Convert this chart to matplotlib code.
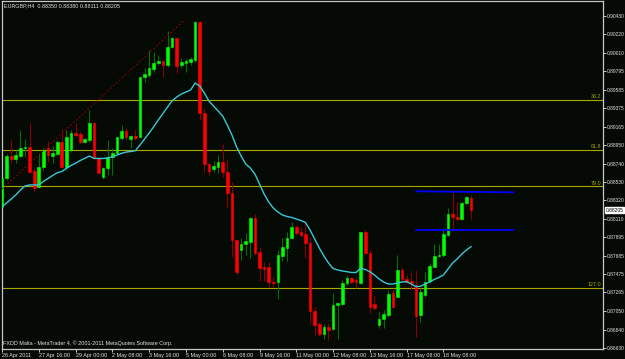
import matplotlib
matplotlib.use("Agg")
import matplotlib.pyplot as plt
import matplotlib.transforms as mtransforms

# ---- data (EURGBP H4) ----
open_ = [
    0.88244, 0.88576, 0.88831, 0.88790, 0.88831, 0.88916, 0.88927, 0.88656, 0.88476, 0.88698,
    0.88916, 0.88831, 0.88847, 0.88991, 0.88698, 0.88896, 0.89094, 0.89079, 0.88991, 0.89011,
    0.89202, 0.88801, 0.88584, 0.88687, 0.88819, 0.88865, 0.89030, 0.89117, 0.89022, 0.89056,
    0.89041, 0.89728, 0.89755, 0.89820, 0.89895, 0.89915, 0.89869, 0.90072, 0.90175, 0.89869,
    0.89889, 0.89907, 0.89926, 0.90365, 0.89316, 0.88736, 0.88682, 0.88705, 0.88762, 0.88648,
    0.88407, 0.87866, 0.87752, 0.87820, 0.87847, 0.88114, 0.87729, 0.87560, 0.87560, 0.87389,
    0.87382, 0.87683, 0.87778, 0.87885, 0.88018, 0.87958, 0.87935, 0.87835, 0.87057, 0.86905,
    0.86790, 0.86867, 0.86844, 0.87122, 0.87133, 0.87370, 0.87428, 0.87408, 0.87370, 0.87954,
    0.87714, 0.87130, 0.86893, 0.86958, 0.87008, 0.87256, 0.87217, 0.87523, 0.87416, 0.87397,
    0.87351, 0.87008, 0.87236, 0.87397, 0.87560, 0.87683, 0.87694, 0.87923, 0.88160, 0.88133,
    0.88103, 0.88286, 0.88350]
high = [
    0.88587, 0.88847, 0.89011, 0.88896, 0.89125, 0.89022, 0.89209, 0.88690, 0.88858, 0.88922,
    0.88999, 0.88942, 0.89011, 0.89133, 0.89125, 0.89125, 0.89202, 0.89117, 0.89030, 0.89354,
    0.89220, 0.88819, 0.88705, 0.89011, 0.88916, 0.89041, 0.89182, 0.89144, 0.89068, 0.89125,
    0.89728, 0.89835, 0.90041, 0.90021, 0.89984, 0.89926, 0.90262, 0.90193, 0.90186, 0.89946,
    0.89934, 0.89964, 0.90376, 0.90376, 0.89362, 0.88751, 0.88774, 0.88839, 0.88965, 0.88793,
    0.88533, 0.87877, 0.87885, 0.87943, 0.88133, 0.88164, 0.87789, 0.87618, 0.87618, 0.87439,
    0.87752, 0.87892, 0.87961, 0.88069, 0.88038, 0.88018, 0.88057, 0.87904, 0.87103, 0.86931,
    0.86905, 0.86913, 0.87256, 0.87148, 0.87408, 0.87465, 0.87446, 0.87446, 0.87961, 0.87980,
    0.87752, 0.87225, 0.87045, 0.87065, 0.87294, 0.87313, 0.87694, 0.87560, 0.87465, 0.87503,
    0.87523, 0.87317, 0.87503, 0.87599, 0.87820, 0.87820, 0.87988, 0.88229, 0.88401, 0.88304,
    0.88304, 0.88370, 0.88380]
low = [
    0.88209, 0.88553, 0.88747, 0.88747, 0.88816, 0.88819, 0.88629, 0.88419, 0.88458, 0.88667,
    0.88762, 0.88744, 0.88839, 0.88687, 0.88667, 0.88877, 0.89048, 0.88973, 0.88973, 0.88991,
    0.88782, 0.88629, 0.88564, 0.88610, 0.88610, 0.88858, 0.89011, 0.89011, 0.88916, 0.89011,
    0.89030, 0.89678, 0.89735, 0.89792, 0.89869, 0.89735, 0.89850, 0.90060, 0.89774, 0.89831,
    0.89792, 0.89869, 0.89907, 0.89240, 0.88648, 0.88610, 0.88648, 0.88629, 0.88591, 0.88247,
    0.87675, 0.87465, 0.87637, 0.87694, 0.87657, 0.87694, 0.87400, 0.87400, 0.87325, 0.87325,
    0.87187, 0.87629, 0.87629, 0.87877, 0.87923, 0.87904, 0.87657, 0.86913, 0.86779, 0.86767,
    0.86729, 0.86721, 0.86836, 0.86729, 0.87122, 0.87351, 0.87370, 0.87313, 0.87362, 0.87706,
    0.87027, 0.87065, 0.86855, 0.86855, 0.86988, 0.87084, 0.87210, 0.87389, 0.87370, 0.87294,
    0.86759, 0.86927, 0.87217, 0.87370, 0.87560, 0.87675, 0.87675, 0.87912, 0.87980, 0.88095,
    0.88095, 0.88267, 0.88111]
close = [
    0.88576, 0.88831, 0.88793, 0.88839, 0.88916, 0.88930, 0.88648, 0.88458, 0.88705, 0.88896,
    0.88839, 0.88858, 0.88991, 0.88698, 0.89048, 0.89094, 0.89068, 0.88991, 0.89022, 0.89202,
    0.88819, 0.88636, 0.88694, 0.88819, 0.88858, 0.89041, 0.89117, 0.89041, 0.89056, 0.89030,
    0.89728, 0.89766, 0.89831, 0.89895, 0.89915, 0.89869, 0.90072, 0.90175, 0.89861, 0.89900,
    0.89915, 0.89934, 0.90365, 0.89316, 0.88736, 0.88659, 0.88713, 0.88762, 0.88648, 0.88401,
    0.87866, 0.87503, 0.87820, 0.87855, 0.88114, 0.87721, 0.87549, 0.87534, 0.87382, 0.87377,
    0.87694, 0.87782, 0.87892, 0.88018, 0.87950, 0.87923, 0.87835, 0.87057, 0.86893, 0.86790,
    0.86867, 0.86836, 0.87122, 0.87148, 0.87370, 0.87428, 0.87389, 0.87389, 0.87954, 0.87714,
    0.87103, 0.87091, 0.86958, 0.87015, 0.87248, 0.87103, 0.87523, 0.87416, 0.87385, 0.87374,
    0.86996, 0.87271, 0.87389, 0.87572, 0.87686, 0.87694, 0.87935, 0.88160, 0.88133, 0.88103,
    0.88286, 0.88355, 0.88205]
ma = [
    0.88247, 0.88290, 0.88335, 0.88381, 0.88438, 0.88484, 0.88496, 0.88496, 0.88496, 0.88536,
    0.88570, 0.88604, 0.88636, 0.88650, 0.88687, 0.88719, 0.88744, 0.88776, 0.88801, 0.88827,
    0.88801, 0.88799, 0.88799, 0.88805, 0.88819, 0.88839, 0.88858, 0.88873, 0.88879, 0.88888,
    0.88953, 0.89022, 0.89091, 0.89163, 0.89240, 0.89314, 0.89388, 0.89460, 0.89503, 0.89537,
    0.89560, 0.89583, 0.89663, 0.89629, 0.89549, 0.89457, 0.89400, 0.89343, 0.89285, 0.89182,
    0.89068, 0.88934, 0.88827, 0.88736, 0.88690, 0.88621, 0.88507, 0.88392, 0.88301, 0.88232,
    0.88186, 0.88152, 0.88135, 0.88124, 0.88106, 0.88089, 0.88066, 0.87980, 0.87877, 0.87774,
    0.87683, 0.87603, 0.87540, 0.87523, 0.87511, 0.87503, 0.87494, 0.87494, 0.87542, 0.87528,
    0.87503, 0.87465, 0.87420, 0.87385, 0.87362, 0.87362, 0.87374, 0.87385, 0.87389, 0.87362,
    0.87332, 0.87336, 0.87362, 0.87385, 0.87414, 0.87437, 0.87465, 0.87534, 0.87603, 0.87649,
    0.87706, 0.87752, 0.87789]

xtick_bars = [0, 8, 16, 24, 32, 40, 48, 56, 64, 72, 80, 88, 96]
xtick_labels = ["26 Apr 2011", "27 Apr 16:00", "29 Apr 00:00", "2 May 08:00",
                "3 May 16:00", "5 May 00:00", "6 May 08:00", "9 May 16:00",
                "11 May 00:00", "12 May 08:00", "13 May 16:00", "17 May 08:00",
                "18 May 08:00"]
ytick_values = [0.90430, 0.90220, 0.90010, 0.89795, 0.89585, 0.89375, 0.89165,
                0.88950, 0.88740, 0.88530, 0.88320, 0.88110, 0.87895, 0.87685,
                0.87475, 0.87265, 0.87050, 0.86840, 0.86630]

fib_high = 0.90394
fib_low = 0.87970
fib_levels = [38.2, 61.8, 79.0, 127.0]
fib_labels = ["38.2", "61.8", "79.0", "127.0"]

trend_bars = [0, 39.8]
trend_prices = [0.88450, 0.90390]

channel_bars = [90.1, 111.2]
channel_top = [0.88423, 0.88412]
channel_bottom = [0.87977, 0.87977]

symbol = "EURGBP,H4"
last_price = 0.88205

# ---- style ----
BG = "#050a05"
FRAME = "#c8c8c8"
TXT = "#e4e4e4"
FIB = "#a8a800"
BULL_BODY, BULL_WICK = "#00ff00", "#007000"
BEAR_BODY, BEAR_WICK = "#ff0000", "#8b0000"
FONT = "Liberation Sans"
FS = 3.9
FS_Y = 3.55

W, H = 625, 359
fig = plt.figure(figsize=(W / 100, H / 100), dpi=100, facecolor=BG)
ax = fig.add_axes([2 / W, 1 - 349 / H, 601 / W, 348 / H], facecolor=BG)

# fibonacci levels
blend = mtransforms.blended_transform_factory(ax.transAxes, ax.transData)
for lvl, lab in zip(fib_levels, fib_labels):
    price = fib_high - (fib_high - fib_low) * lvl / 100.0
    ax.axhline(price, color=FIB, lw=0.8, zorder=1)
    ax.text(0.9965, price + 0.00008, lab, transform=blend, ha="right", va="bottom",
            color=FIB, fontsize=FS, family=FONT, zorder=1)

# candles
for i, (o, h, l, c) in enumerate(zip(open_, high, low, close)):
    bull = c >= o
    ax.vlines(i, l, h, color=BULL_WICK if bull else BEAR_WICK, lw=0.8, zorder=2)
    body_col = BULL_BODY if bull else BEAR_BODY
    ax.bar(i, abs(c - o), bottom=min(o, c), width=0.58, color=body_col,
           edgecolor=body_col, lw=0.4, zorder=3)

# moving average
ax.plot(range(len(ma)), ma, color="#38c8d8", lw=1.0, zorder=4)

# trend line (dotted)
ax.plot(trend_bars, trend_prices, color="#8b0000", lw=0.8, ls=(0, (1.5, 2)), zorder=4)

# channel lines
ax.plot(channel_bars, channel_top, color="#0000ff", lw=1.3, zorder=4)
ax.plot(channel_bars, channel_bottom, color="#0000ff", lw=1.3, zorder=4)

ax.set_xlim(0.07, 130.7)
ax.set_ylim(0.86618, 0.90602)

for s in ax.spines.values():
    s.set_color(FRAME)
    s.set_linewidth(0.9)

ax.yaxis.tick_right()
ax.set_yticks(ytick_values)
ax.set_yticklabels([f"{v:.5f}" for v in ytick_values])
ax.set_xticks(xtick_bars)
ax.set_xticklabels(xtick_labels, ha="left")
ax.tick_params(axis="both", colors=FRAME, labelcolor=TXT, labelsize=FS,
               length=2, width=0.7, direction="out")
ax.tick_params(axis="y", pad=1.0, labelsize=FS_Y)
ax.tick_params(axis="x", pad=1.0)
for t in ax.get_xticklabels() + ax.get_yticklabels():
    t.set_family(FONT)

# current price box
ax.text(1.0 + 3 / 601, last_price, f"{last_price:.5f}", transform=blend, ha="left",
        va="center", fontsize=FS_Y, family=FONT, color="black", zorder=6, clip_on=False,
        bbox=dict(boxstyle="square,pad=0.12", facecolor="white", edgecolor="white"))

# header / footer
fig.text(4 / W, 1 - 6 / H,
         f"{symbol}  {open_[-1]:.5f} {high[-1]:.5f} {low[-1]:.5f} {close[-1]:.5f}",
         ha="left", va="center", fontsize=FS, family=FONT, color=TXT)
fig.text(3 / W, 1 - 343 / H,
         "FXDD Malta - MetaTrader 4, \u00a9 2001-2011 MetaQuotes Software Corp.",
         ha="left", va="center", fontsize=FS, family=FONT, color=TXT)

fig.savefig("out.png", dpi=100, facecolor=BG)
